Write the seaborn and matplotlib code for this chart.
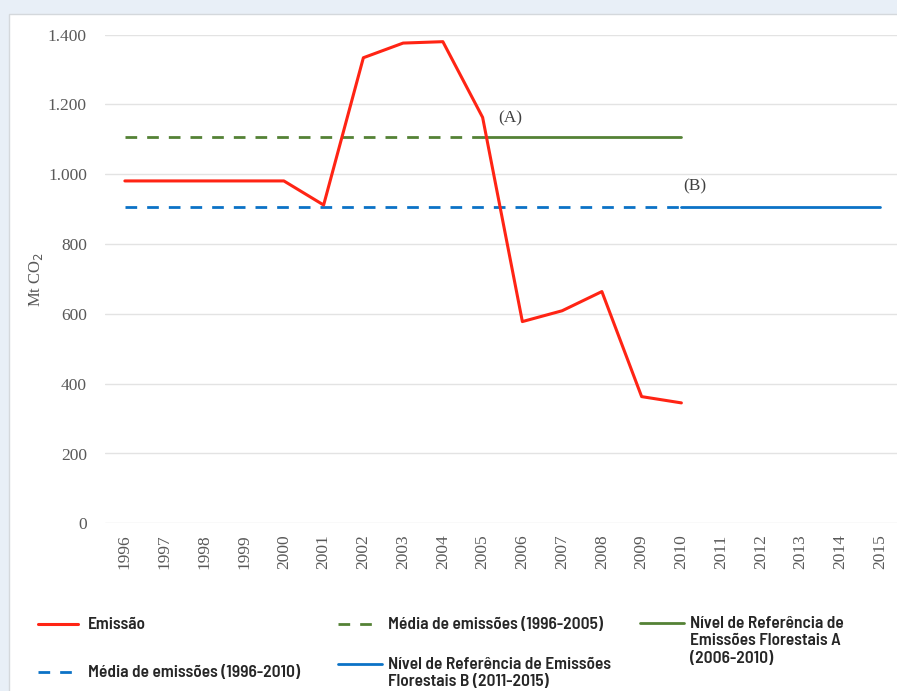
import numpy as np
import pandas as pd
import matplotlib.pyplot as plt
import seaborn as sns
from matplotlib.lines import Line2D
from matplotlib.patches import Rectangle

# data (Mt CO2)
years = list(range(1996, 2016))
emission_years = list(range(1996, 2011))
emission = [981, 981, 981, 981, 981, 912, 1334, 1376, 1380, 1163, 578, 609, 664, 363, 345]

mean_a_years = [1996, 2005]
mean_a = [1106, 1106]
ref_a_years = [2005, 2010]
ref_a = [1106, 1106]
mean_b_years = [1996, 2010]
mean_b = [907, 907]
ref_b_years = [2010, 2015]
ref_b = [907, 907]

y_ticks = [0, 200, 400, 600, 800, 1000, 1200, 1400]
y_tick_labels = ["0", "200", "400", "600", "800", "1.000", "1.200", "1.400"]

RED = "#ff2414"
GREEN = "#548235"
BLUE = "#0b72c6"
DASH = (0, (4.2, 3.6))

sns.set_style("white")
serif = ["Liberation Serif", "DejaVu Serif"]
legend_font = ["Barlow Semi Condensed", "Roboto Condensed", "DejaVu Sans"]
plt.rcParams["font.family"] = serif

fig = plt.figure(figsize=(8.97, 6.91), dpi=100)
fig.patch.set_facecolor("#e8eff7")
# white panel behind the chart
fig.patches.append(Rectangle((9 / 897, -0.01), 1.0, 1.01 - 14 / 691, transform=fig.transFigure,
                             facecolor="white", edgecolor="#d4d8dc", lw=1.0, zorder=-1))

ax = fig.add_axes([105 / 897, 1 - 523.3 / 691, 795 / 897, 488.6 / 691])
ax.set_facecolor("none")

lw = 2.0
sns.lineplot(x=mean_a_years, y=mean_a, ax=ax, color=GREEN, lw=lw, linestyle=DASH)
sns.lineplot(x=ref_a_years, y=ref_a, ax=ax, color=GREEN, lw=lw)
sns.lineplot(x=mean_b_years, y=mean_b, ax=ax, color=BLUE, lw=lw, linestyle=DASH)
sns.lineplot(x=ref_b_years, y=ref_b, ax=ax, color=BLUE, lw=lw)
sns.lineplot(x=emission_years, y=emission, ax=ax, color=RED, lw=2.2)

ax.set_xlim(1995.5, 2015.5)
ax.set_ylim(0, 1400)
ax.set_xticks(years)
ax.set_xticklabels([str(y) for y in years], rotation=90, fontsize=12.5, color="#595959")
ax.set_yticks(y_ticks)
ax.set_yticklabels(y_tick_labels, fontsize=12.5, color="#595959")
ax.tick_params(length=0, pad=13)
ax.tick_params(axis="x", pad=8)
ax.yaxis.grid(True, color="#e3e3e3", lw=1.0)
ax.set_axisbelow(True)
for s in ax.spines.values():
    s.set_visible(False)
ax.set_xlabel("")
ax.set_ylabel("")

fig.text(36 / 897, 1 - 279 / 691, "Mt CO$_2$", rotation=90, ha="center", va="center",
         fontsize=12, color="#595959")

ax.text(2005.7, 1160, "(A)", ha="center", va="center", fontsize=12.5, color="#404040")
ax.text(2010.35, 965, "(B)", ha="center", va="center", fontsize=12.5, color="#404040")

# legend laid out like the original (handles aligned with first text line)
entries = [
    (38, 624, dict(color=RED, lw=2.2), "Emissão"),
    (38, 672, dict(color=BLUE, lw=2.0, linestyle=DASH), "Média de emissões (1996-2010)"),
    (338, 624, dict(color=GREEN, lw=2.0, linestyle=DASH), "Média de emissões (1996-2005)"),
    (338, 664, dict(color=BLUE, lw=2.0), "Nível de Referência de Emissões\nFlorestais B (2011-2015)"),
    (640, 623, dict(color=GREEN, lw=2.0), "Nível de Referência de\nEmissões Florestais A\n(2006-2010)"),
]
for x0, y0, style, label in entries:
    yy = 1 - y0 / 691
    hl = 44 if "Nível" in label else 40
    fig.lines.append(Line2D([x0 / 897, (x0 + hl) / 897], [yy, yy], transform=fig.transFigure, **style))
    fig.text((x0 + 50) / 897, yy + 7 / 691, label, ha="left", va="top", fontsize=12.5,
             family=legend_font, weight=600, color="#262626", linespacing=1.2)

fig.savefig("out.png", dpi=100)
